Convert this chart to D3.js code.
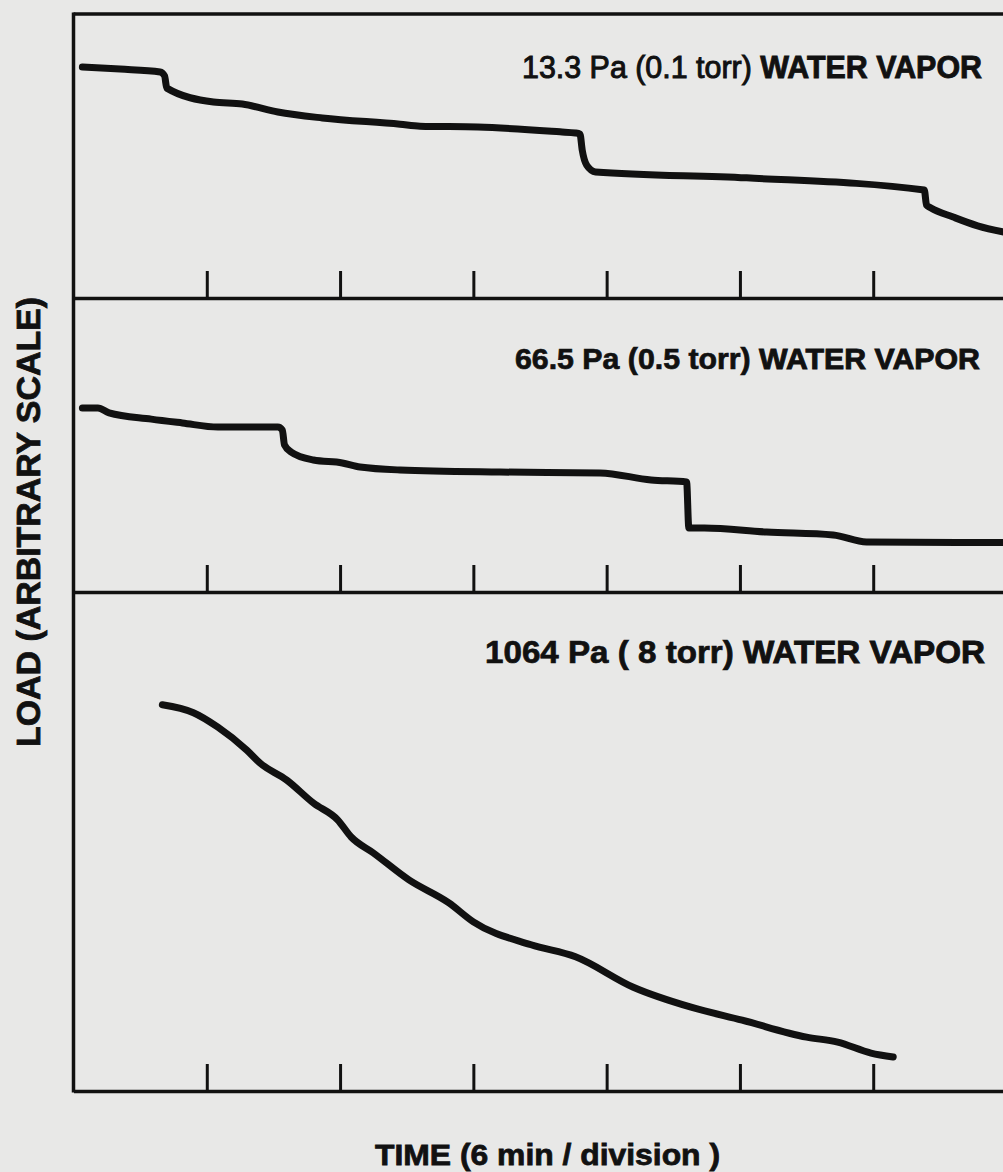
<!DOCTYPE html>
<html>
<head>
<meta charset="utf-8">
<script src="https://cdn.jsdelivr.net/npm/d3@7"></script>
<style>
  html, body { margin: 0; padding: 0; background: #e8e8e7; }
  svg { display: block; }
  text { font-family: "Liberation Sans", Arial, sans-serif; fill: #111; }
</style>
</head>
<body>
<svg id="chart" width="1003" height="1172"></svg>
<script>
// Time in minutes, load on an arbitrary 0-100 scale per panel.
const tickMinutes = [6, 12, 18, 24, 30, 36];

const lowTime = [0.4, 2.1, 3.9, 4.1, 4.2, 6.3, 7.6, 9.2, 11.2, 14.7, 15.6, 18.2, 21.9, 22.6,
                 22.8, 22.9, 23.1, 23.5, 30.3, 38.3, 38.4, 38.6, 39.6, 40.7, 41.9];
const lowLoad = [81.3, 80.6, 79.6, 78.2, 73.9, 69.0, 68.3, 65.5, 63.4, 61.2, 60.5, 60.2, 58.5, 58.1,
                 57.7, 52.1, 46.8, 44.4, 42.3, 38.0, 32.7, 31.7, 28.5, 25.4, 23.2];

const midTime = [0.4, 1.1, 1.6, 3.5, 4.9, 6.5, 9.2, 9.4, 9.5, 9.8, 10.8, 12.1, 12.9, 14.7, 19.2,
                 23.7, 26.0, 27.6, 27.7, 28.4, 31.2, 34.2, 35.7, 41.9];
const midLoad = [62.6, 62.6, 60.9, 58.8, 57.5, 56.1, 56.1, 55.1, 50.0, 47.6, 44.9, 43.9, 42.5, 41.5, 40.8,
                 40.5, 38.1, 37.4, 21.8, 21.8, 20.4, 19.4, 17.0, 16.8];

const highTime = [4.0, 5.4, 6.5, 7.8, 8.4, 9.6, 10.8, 11.9, 12.5, 13.5, 15.1, 16.9, 18.0, 20.6, 22.6,
                  25.2, 27.8, 30.1, 33.0, 34.4, 35.9, 36.9];
const highLoad = [77.4, 75.8, 72.9, 68.3, 65.7, 62.3, 57.7, 54.3, 50.9, 47.7, 42.3, 37.7, 33.9, 29.3, 26.9,
                  20.8, 16.8, 14.2, 10.8, 9.8, 7.6, 6.8];

const panelLabels = [
  ["13.3 Pa (0.1 torr)", "WATER VAPOR"],
  ["66.5 Pa (0.5 torr)", "WATER VAPOR"],
  ["1064 Pa ( 8 torr)", "WATER VAPOR"]
];
const yTitle = "LOAD (ARBITRARY SCALE)";
const xTitle = "TIME  (6 min / division )";

const svg = d3.select("#chart");
const ink = "#111";

// shared time axis: 6 min per division
const x = d3.scaleLinear().domain([0, 42]).range([73.5, 1006.5]);

// stacked panels: [top, bottom] in pixels
const panels = [
  { top: 14,  bottom: 298,  t: lowTime,  v: lowLoad,  label: panelLabels[0], labelX: 522, labelY: 78,  labelW: 460, size: 31, lightFirst: true },
  { top: 298, bottom: 592,  t: midTime,  v: midLoad,  label: panelLabels[1], labelX: 515, labelY: 369, labelW: 465, size: 29, lightFirst: false },
  { top: 592, bottom: 1091, t: highTime, v: highLoad, label: panelLabels[2], labelX: 485, labelY: 663, labelW: 500, size: 31, lightFirst: false }
];

// top border of the frame
svg.append("line")
  .attr("x1", x(0)).attr("x2", 1003)
  .attr("y1", panels[0].top).attr("y2", panels[0].top)
  .attr("stroke", ink).attr("stroke-width", 3.5);

// left border
svg.append("line")
  .attr("x1", x(0)).attr("x2", x(0))
  .attr("y1", panels[0].top - 1.5).attr("y2", panels[2].bottom + 1.5)
  .attr("stroke", ink).attr("stroke-width", 3.5);

panels.forEach(p => {
  const y = d3.scaleLinear().domain([0, 100]).range([p.bottom, p.top]);

  // baseline with upward division ticks
  const axis = d3.axisBottom(x)
    .tickValues(tickMinutes)
    .tickSizeInner(-27)
    .tickSizeOuter(0)
    .tickFormat("");
  const g = svg.append("g")
    .attr("transform", `translate(0,${p.bottom})`)
    .call(axis);
  g.select(".domain").attr("stroke", ink).attr("stroke-width", 3.5);
  g.selectAll(".tick line").attr("stroke", ink).attr("stroke-width", 3);

  // load trace
  const pts = p.t.map((t, i) => [t, p.v[i]]);
  svg.append("path")
    .datum(pts)
    .attr("d", d3.line().curve(d3.curveMonotoneX).x(d => x(d[0])).y(d => y(d[1])))
    .attr("fill", "none")
    .attr("stroke", ink)
    .attr("stroke-width", 7)
    .attr("stroke-linejoin", "round")
    .attr("stroke-linecap", "round");

  // panel caption
  const txt = svg.append("text")
    .attr("x", p.labelX).attr("y", p.labelY)
    .attr("font-size", p.size)
    .attr("textLength", p.labelW)
    .attr("lengthAdjust", "spacingAndGlyphs");
  txt.append("tspan")
    .attr("font-weight", p.lightFirst ? "normal" : "bold")
    .attr("stroke", ink)
    .attr("stroke-width", p.lightFirst ? 1 : 0.7)
    .text(p.label[0] + " ");
  txt.append("tspan")
    .attr("font-weight", "bold")
    .attr("stroke", ink)
    .attr("stroke-width", 0.9)
    .text(" " + p.label[1]);
});

// axis titles
svg.append("text")
  .attr("transform", "translate(40,522) rotate(-90)")
  .attr("text-anchor", "middle")
  .attr("font-size", 34)
  .attr("font-weight", "bold")
  .attr("stroke", ink)
  .attr("stroke-width", 0.8)
  .attr("textLength", 450)
  .attr("lengthAdjust", "spacingAndGlyphs")
  .text(yTitle);

svg.append("text")
  .attr("x", 375).attr("y", 1165)
  .attr("font-size", 30)
  .attr("font-weight", "bold")
  .attr("stroke", ink)
  .attr("stroke-width", 0.8)
  .attr("textLength", 345)
  .attr("lengthAdjust", "spacingAndGlyphs")
  .text(xTitle);
</script>
</body>
</html>
